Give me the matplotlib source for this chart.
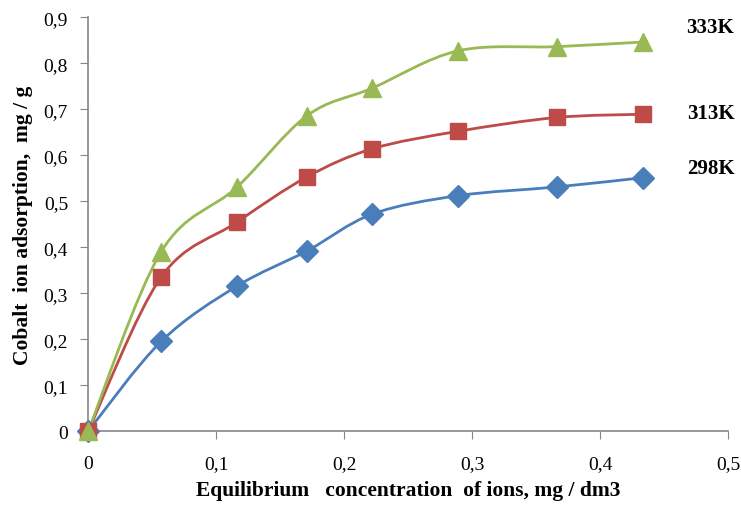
import matplotlib
matplotlib.use("Agg")
import matplotlib.pyplot as plt
from matplotlib.path import Path
from matplotlib.patches import PathPatch
from matplotlib.ticker import FuncFormatter

# Datos
conc = [0, 0.057, 0.116, 0.171, 0.222, 0.289, 0.366, 0.433]
ads_298 = [0, 0.195, 0.315, 0.392, 0.472, 0.512, 0.531, 0.551]
ads_313 = [0, 0.335, 0.454, 0.553, 0.614, 0.652, 0.682, 0.689]
ads_333 = [0, 0.390, 0.530, 0.686, 0.746, 0.827, 0.836, 0.846]

labels = ["298K", "313K", "333K"]
label_y = [0.573, 0.692, 0.878]

blue = "#4A7EBB"
red = "#BE4B48"
green = "#98B954"


# Linea suavizada tipo Excel (bezier por segmentos)
def smooth_path(xs, ys, t=0.5 / 3):
    verts = [(xs[0], ys[0])]
    codes = [Path.MOVETO]
    n = len(xs)
    for i in range(n - 1):
        x0, y0 = xs[max(i - 1, 0)], ys[max(i - 1, 0)]
        x1, y1 = xs[i], ys[i]
        x2, y2 = xs[i + 1], ys[i + 1]
        x3, y3 = xs[min(i + 2, n - 1)], ys[min(i + 2, n - 1)]
        c1 = (x1 + (x2 - x0) * t, y1 + (y2 - y0) * t)
        c2 = (x2 - (x3 - x1) * t, y2 - (y3 - y1) * t)
        verts += [c1, c2, (x2, y2)]
        codes += [Path.CURVE4] * 3
    return Path(verts, codes)


plt.rcParams["font.family"] = ["Liberation Serif", "DejaVu Serif"]

fig = plt.figure(figsize=(7.41, 5.06), dpi=100)
ax = fig.add_axes([0.119, 0.146, 0.864, 0.818])

series = [
    (ads_298, blue, "D", 11),
    (ads_313, red, "s", 12),
    (ads_333, green, "^", 13),
]
for ys, col, mk, ms in series:
    ax.add_patch(PathPatch(smooth_path(conc, ys), fill=False, edgecolor=col,
                           lw=2, zorder=2, clip_on=False))
    ax.plot(conc, ys, linestyle="none", marker=mk, markersize=ms, color=col,
            markeredgecolor=col, zorder=3, clip_on=False)

for lab, yy in zip(labels, label_y):
    ax.text(0.486, yy, lab, fontsize=15, fontweight="bold", ha="center",
            va="center", clip_on=False)

ax.set_xlim(0, 0.5)
ax.set_ylim(0, 0.9)
ax.set_xticks([0, 0.1, 0.2, 0.3, 0.4, 0.5])
ax.set_yticks([0, 0.1, 0.2, 0.3, 0.4, 0.5, 0.6, 0.7, 0.8, 0.9])
fmt = FuncFormatter(lambda v, p: "0" if v == 0 else f"{v:.1f}".replace(".", ","))
ax.xaxis.set_major_formatter(fmt)
ax.yaxis.set_major_formatter(fmt)

for s in ["top", "right"]:
    ax.spines[s].set_visible(False)
for s in ["left", "bottom"]:
    ax.spines[s].set_color("#868686")
    ax.spines[s].set_linewidth(1.2)
ax.tick_params(axis="both", direction="out", length=6, color="#868686",
               labelsize=14)
ax.tick_params(axis="y", pad=8.5)
ax.tick_params(axis="x", pad=11)

ax.set_xlabel("Equilibrium   concentration  of ions, mg / dm3", fontsize=15.5,
              fontweight="bold")
ax.set_ylabel("Cobalt  ion adsorption,  mg / g", fontsize=15.5,
              fontweight="bold")
ax.xaxis.set_label_coords(0.5, -0.118)
ax.yaxis.set_label_coords(-0.086, 0.5)

fig.savefig("out.png", dpi=100)
